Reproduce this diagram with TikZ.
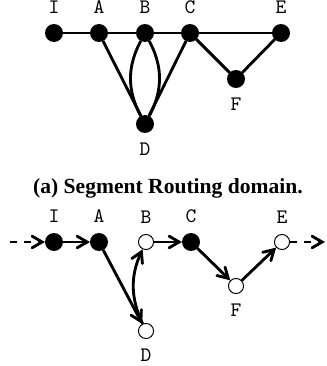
\documentclass[tikz,border=0pt]{standalone}
\usepackage{fontspec}
\setmainfont{Liberation Serif}
\usetikzlibrary{arrows}

\tikzset{
  full/.style={circle,draw,fill=black,inner sep=0pt,minimum size=7.7pt},
  hollow/.style={circle,draw,fill=white,line width=0.5pt,inner sep=0pt,minimum size=7.7pt},
  flow/.style={dash pattern=on 3.6pt off 3.6pt},
}

\begin{document}
\begin{tikzpicture}[x=0.51pt,y=-0.51pt,line width=1.45pt,>=angle 60,label distance=1.2pt,
  every label/.style={font=\fontsize{10.5}{12}\selectfont\ttfamily}]
\useasboundingbox (0,0) rectangle (326,366);

% (a) the domain
\node[full,label=above:I] (I1) at (54,33) {};
\node[full,label=above:A] (A1) at (99,33) {};
\node[full,label=above:B] (B1) at (145,33) {};
\node[full,label=above:C] (C1) at (190,33) {};
\node[full,label=above:E] (E1) at (281,33) {};
\node[full,label=below:F] (F1) at (236,79) {};
\node[full,label=below:D] (D1) at (145,124) {};

\draw (I1) -- (A1) -- (B1) -- (C1) -- (E1);
\draw (A1) -- (D1) -- (C1);
\draw (B1) to[bend right=28] (D1);
\draw (B1) to[bend left=28] (D1);
\draw (C1) -- (F1) -- (E1);

\node[anchor=base,font=\fontsize{11}{13}\selectfont\bfseries] (cap) at (168,193) {(a) Segment Routing domain.};

% the path through the segments
\node[full,label=above:I] (I2) at (54,242) {};
\node[full,label=above:A] (A2) at (99,242) {};
\node[hollow,label=above:B] (B2) at (146,242) {};
\node[full,label=above:C] (C2) at (191,242) {};
\node[hollow,label=above:E] (E2) at (282,242) {};
\node[hollow,label=below:F] (F2) at (236,286) {};
\node[hollow,label=below:D] (D2) at (146,331) {};
\coordinate (in) at (10,242);
\coordinate (out) at (325,242);

\draw[->,flow] (in) -- (I2);
\draw[->] (I2) -- (A2);
\draw[->] (A2) -- (D2);
\draw[->] (D2) to[bend left=25] (B2);
\draw[->] (B2) -- (C2);
\draw[->] (C2) -- (F2);
\draw[->] (F2) -- (E2);
\draw[->,flow] (E2) -- (out);
\end{tikzpicture}
\end{document}
